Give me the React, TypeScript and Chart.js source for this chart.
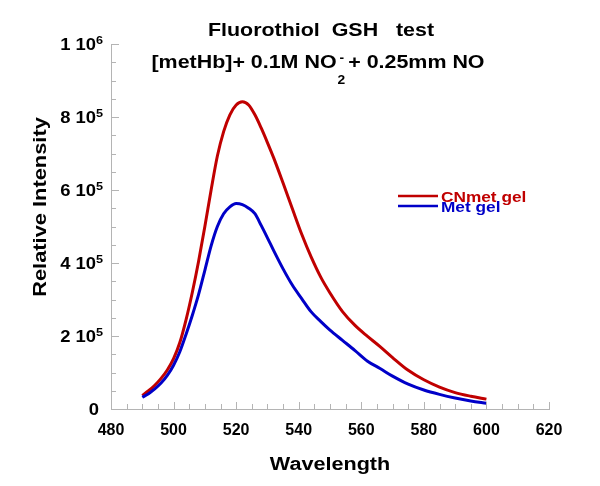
import React, { useEffect, useRef } from "react";
import { Chart, registerables } from "chart.js";
Chart.register(...registerables);

const wavelengths = [490, 492, 494, 496, 498, 500, 502, 504, 506, 508, 510, 512, 514, 516, 518, 520, 522, 524, 526, 528, 530, 532, 535, 538, 541, 544, 547, 550, 554, 558, 562, 566, 570, 575, 580, 585, 590, 595, 600];
const cnmetGel = [37000, 50000, 65000, 84000, 107000, 138000, 182000, 245000, 320000, 405000, 500000, 600000, 693000, 760000, 806000, 833000, 842000, 833000, 806000, 770000, 730000, 688000, 619000, 548000, 478000, 416000, 362000, 318000, 267000, 229000, 199000, 171000, 141000, 106000, 80000, 60000, 45000, 35000, 27000];
const metGel = [32000, 42000, 55000, 71000, 92000, 120000, 157000, 205000, 257000, 314000, 380000, 447000, 500000, 535000, 554000, 563000, 560000, 550000, 535000, 503000, 469000, 434000, 384000, 339000, 302000, 266000, 240000, 216000, 188000, 160000, 131000, 111000, 90000, 68000, 52000, 40000, 30000, 22000, 16000];

const seriesNames = ["CNmet gel", "Met gel"];
const xTicks = [480, 500, 520, 540, 560, 580, 600, 620];
const yTicks = [0, 200000, 400000, 600000, 800000, 1000000];
const titleLine1 = "Fluorothiol  GSH   test";
const titleLine2a = "[metHb]+ 0.1M NO";
const titleSub = "2";
const titleSup = "-";
const titleLine2b = "+ 0.25mm NO";
const xTitle = "Wavelength";
const yTitle = "Relative Intensity";

const RED = "#c00000";
const BLUE = "#0000c8";
const AXIS = "#b4b4b4";
const FONT = "'Liberation Sans', Arial, sans-serif";

function txt(ctx: CanvasRenderingContext2D, s: string, x: number, y: number, size: number, color: string, align: string, sx: number) {
  ctx.save();
  ctx.font = `bold ${size}px ${FONT}`;
  ctx.fillStyle = color;
  ctx.textBaseline = "alphabetic";
  ctx.textAlign = "left";
  const w = ctx.measureText(s).width * sx;
  const left = align === "center" ? x - w / 2 : align === "right" ? x - w : x;
  ctx.translate(left, y);
  ctx.scale(sx, 1);
  ctx.fillText(s, 0, 0);
  ctx.restore();
  return w;
}
function tw(ctx: CanvasRenderingContext2D, s: string, size: number, sx: number) {
  ctx.save();
  ctx.font = `bold ${size}px ${FONT}`;
  const w = ctx.measureText(s).width * sx;
  ctx.restore();
  return w;
}

const decor = {
  id: "decor",
  afterDraw(chart: any) {
    const ctx: CanvasRenderingContext2D = chart.ctx;
    const xs = chart.scales.x;
    const ys = chart.scales.y;
    const { left, bottom } = chart.chartArea;
    ctx.save();
    ctx.strokeStyle = AXIS;
    ctx.lineWidth = 1;
    for (let v = xs.min; v <= xs.max; v += 5) {
      const px = Math.round(xs.getPixelForValue(v)) + 0.5;
      const len = v % 20 === 0 ? 7 : 5;
      ctx.beginPath();
      ctx.moveTo(px, bottom);
      ctx.lineTo(px, bottom - len);
      ctx.stroke();
    }
    for (let v = ys.min; v <= ys.max; v += 50000) {
      const py = Math.round(ys.getPixelForValue(v)) + 0.5;
      const len = v % 200000 === 0 ? 8 : 5;
      ctx.beginPath();
      ctx.moveTo(left, py);
      ctx.lineTo(left + len, py);
      ctx.stroke();
    }
    ctx.restore();

    // x tick labels
    xTicks.forEach((t) => {
      txt(ctx, String(t), xs.getPixelForValue(t), bottom + 26, 16, "#000", "center", 1.0);
    });
    // y tick labels
    yTicks.forEach((t) => {
      const py = ys.getPixelForValue(t);
      const right = left - 8;
      if (t === 0) {
        txt(ctx, "0", right - 4, py + 6, 16, "#000", "right", 1.15);
        return;
      }
      const e = Math.floor(Math.log10(t) + 1e-9);
      const m = Math.round(t / Math.pow(10, e));
      const supW = tw(ctx, String(e), 11, 1.15);
      txt(ctx, String(e), right, py, 11, "#000", "right", 1.15);
      txt(ctx, `${m} 10`, right - supW, py + 6, 16, "#000", "right", 1.15);
    });

    // axis titles
    txt(ctx, xTitle, (chart.chartArea.left + chart.chartArea.right) / 2, 470, 18, "#000", "center", 1.2);
    ctx.save();
    ctx.translate(46, 207);
    ctx.rotate(-Math.PI / 2);
    txt(ctx, yTitle, 0, 0, 19, "#000", "center", 1.15);
    ctx.restore();

    // title
    txt(ctx, titleLine1, 321, 36, 18, "#000", "center", 1.19);
    const wa = tw(ctx, titleLine2a, 18, 1.19);
    const wsub = Math.max(tw(ctx, titleSub, 12, 1.15), tw(ctx, titleSup, 12, 1.15));
    const wb = tw(ctx, titleLine2b, 18, 1.19);
    const total = wa + wsub + 4 + wb;
    let x0 = 318 - total / 2;
    txt(ctx, titleLine2a, x0, 68, 18, "#000", "left", 1.19);
    x0 += wa + 1;
    txt(ctx, titleSub, x0, 84, 12, "#000", "left", 1.15);
    txt(ctx, titleSup, x0 + 2, 62, 12, "#000", "left", 1.15);
    x0 += wsub + 3;
    txt(ctx, titleLine2b, x0, 68, 18, "#000", "left", 1.19);

    // legend
    const legend = [
      { name: seriesNames[0], color: RED, y: 196 },
      { name: seriesNames[1], color: BLUE, y: 206 },
    ];
    legend.forEach((it) => {
      ctx.save();
      ctx.strokeStyle = it.color;
      ctx.lineWidth = 2.5;
      ctx.beginPath();
      ctx.moveTo(398, it.y);
      ctx.lineTo(438, it.y);
      ctx.stroke();
      ctx.restore();
      txt(ctx, it.name, 441, it.y + 6, 15, it.color, "left", 1.15);
    });
  },
};

export default function App() {
  const ref = useRef<HTMLCanvasElement | null>(null);
  useEffect(() => {
    if (!ref.current) return;
    const chart = new Chart(ref.current, {
      type: "scatter",
      data: {
        datasets: [
          {
            label: seriesNames[0],
            data: wavelengths.map((w, i) => ({ x: w, y: cnmetGel[i] })),
            showLine: true,
            borderColor: RED,
            backgroundColor: RED,
            borderWidth: 3,
            pointRadius: 0,
            cubicInterpolationMode: "monotone",
            order: 1,
          },
          {
            label: seriesNames[1],
            data: wavelengths.map((w, i) => ({ x: w, y: metGel[i] })),
            showLine: true,
            borderColor: BLUE,
            backgroundColor: BLUE,
            borderWidth: 3,
            pointRadius: 0,
            cubicInterpolationMode: "monotone",
            order: 0,
          },
        ],
      },
      options: {
        animation: false,
        responsive: false,
        maintainAspectRatio: false,
        layout: { padding: { left: 111, right: 51, top: 44, bottom: 77 } },
        plugins: { legend: { display: false }, title: { display: false }, tooltip: { enabled: false } },
        scales: {
          x: {
            type: "linear",
            min: 480,
            max: 620,
            ticks: { display: false, stepSize: 20 },
            grid: { display: false, drawTicks: false },
            border: { display: true, color: AXIS, width: 1 },
          },
          y: {
            type: "linear",
            min: 0,
            max: 1000000,
            ticks: { display: false, stepSize: 200000 },
            grid: { display: false, drawTicks: false },
            border: { display: true, color: AXIS, width: 1 },
          },
        },
      } as any,
      plugins: [decor],
    });
    return () => chart.destroy();
  }, []);
  return (
    <div style={{ position: "fixed", left: 0, top: 0, width: 600, height: 486, background: "#fff" }}>
      <canvas ref={ref} width={600} height={486} style={{ width: 600, height: 486, display: "block" }} />
    </div>
  );
}
